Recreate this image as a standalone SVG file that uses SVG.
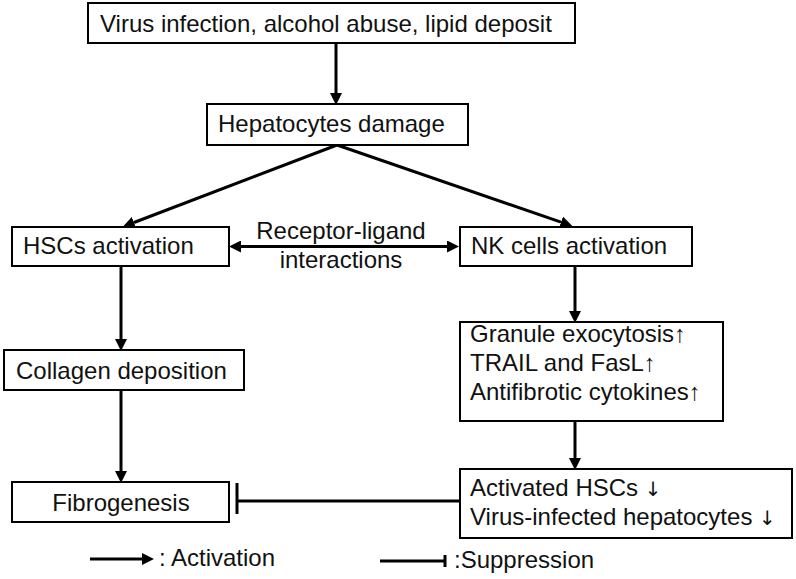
<svg xmlns="http://www.w3.org/2000/svg" width="796" height="579" viewBox="0 0 796 579">
<defs>
<style>
.box{fill:#fff;stroke:#000;stroke-width:2}
.t{font-family:"Liberation Sans",Arial,sans-serif;font-size:24px;fill:#111}
.ar{font-family:"DejaVu Sans",sans-serif;font-size:20px}
.c{stroke:#000;stroke-width:3;fill:none}
</style>
<marker id="ah" markerUnits="userSpaceOnUse" markerWidth="12" markerHeight="12" refX="0" refY="5" orient="auto-start-reverse" viewBox="0 0 10 10">
<path d="M0,0 L10,5 L0,10 z" fill="#000"/>
</marker>
</defs>
<rect width="796" height="579" fill="#fff"/>
<g id="connectors">
<line class="c" x1="336" y1="43" x2="336" y2="93" marker-end="url(#ah)"/>
<line class="c" x1="337" y1="145" x2="134" y2="222.5" marker-end="url(#ah)"/>
<line class="c" x1="337" y1="145" x2="561" y2="222.2" marker-end="url(#ah)"/>
<line class="c" x1="241" y1="246.5" x2="447" y2="246.5" marker-start="url(#ah)" marker-end="url(#ah)"/>
<line class="c" x1="121" y1="266" x2="121" y2="339" marker-end="url(#ah)"/>
<line class="c" x1="121" y1="390" x2="121" y2="471" marker-end="url(#ah)"/>
<line class="c" x1="575" y1="266" x2="575" y2="311" marker-end="url(#ah)"/>
<line class="c" x1="575" y1="421" x2="575" y2="458" marker-end="url(#ah)"/>
<line class="c" x1="459" y1="501" x2="237" y2="501"/>
<line class="c" x1="237" y1="483" x2="237" y2="514" stroke-width="2.5"/>
</g>
<g id="top"><rect class="box" x="88" y="3" width="487" height="40"/><text class="t" x="100" y="32">Virus infection, alcohol abuse, lipid deposit</text></g>
<g id="hepatocytes"><rect class="box" x="207" y="104" width="261" height="41"/><text class="t" x="218" y="132">Hepatocytes damage</text></g>
<g id="hscs"><rect class="box" x="12" y="227" width="217" height="39"/><text class="t" x="23" y="254">HSCs activation</text></g>
<g id="receptor"><text class="t" x="341" y="239" text-anchor="middle">Receptor-ligand</text><text class="t" x="341" y="268" text-anchor="middle">interactions</text></g>
<g id="nk"><rect class="box" x="460" y="227" width="232" height="39"/><text class="t" x="471" y="254">NK cells activation</text></g>
<g id="collagen"><rect class="box" x="4" y="350" width="240" height="40"/><text class="t" x="16" y="379">Collagen deposition</text></g>
<g id="granule"><rect class="box" x="460" y="322" width="263" height="99"/><text class="t" x="470" y="342">Granule exocytosis↑</text><text class="t" x="470" y="371">TRAIL and FasL↑</text><text class="t" x="470" y="400">Antifibrotic cytokines↑</text></g>
<g id="fibrogenesis"><rect class="box" x="12" y="482" width="217" height="40"/><text class="t" x="121" y="511" text-anchor="middle">Fibrogenesis</text></g>
<g id="activated"><rect class="box" x="460" y="469" width="332" height="69"/><text class="t" x="470" y="496">Activated HSCs <tspan class="ar">↓</tspan></text><text class="t" x="470" y="525">Virus-infected hepatocytes <tspan class="ar">↓</tspan></text></g>
<g id="legend">
<line class="c" x1="90" y1="559" x2="142" y2="559" stroke-width="2.5" marker-end="url(#ah)"/>
<text class="t" x="159" y="566">: Activation</text>
<line class="c" x1="380" y1="561" x2="445" y2="561" stroke-width="2"/>
<line class="c" x1="445" y1="555" x2="445" y2="567" stroke-width="1.5"/>
<text class="t" x="454" y="568">:Suppression</text>
</g>
</svg>
